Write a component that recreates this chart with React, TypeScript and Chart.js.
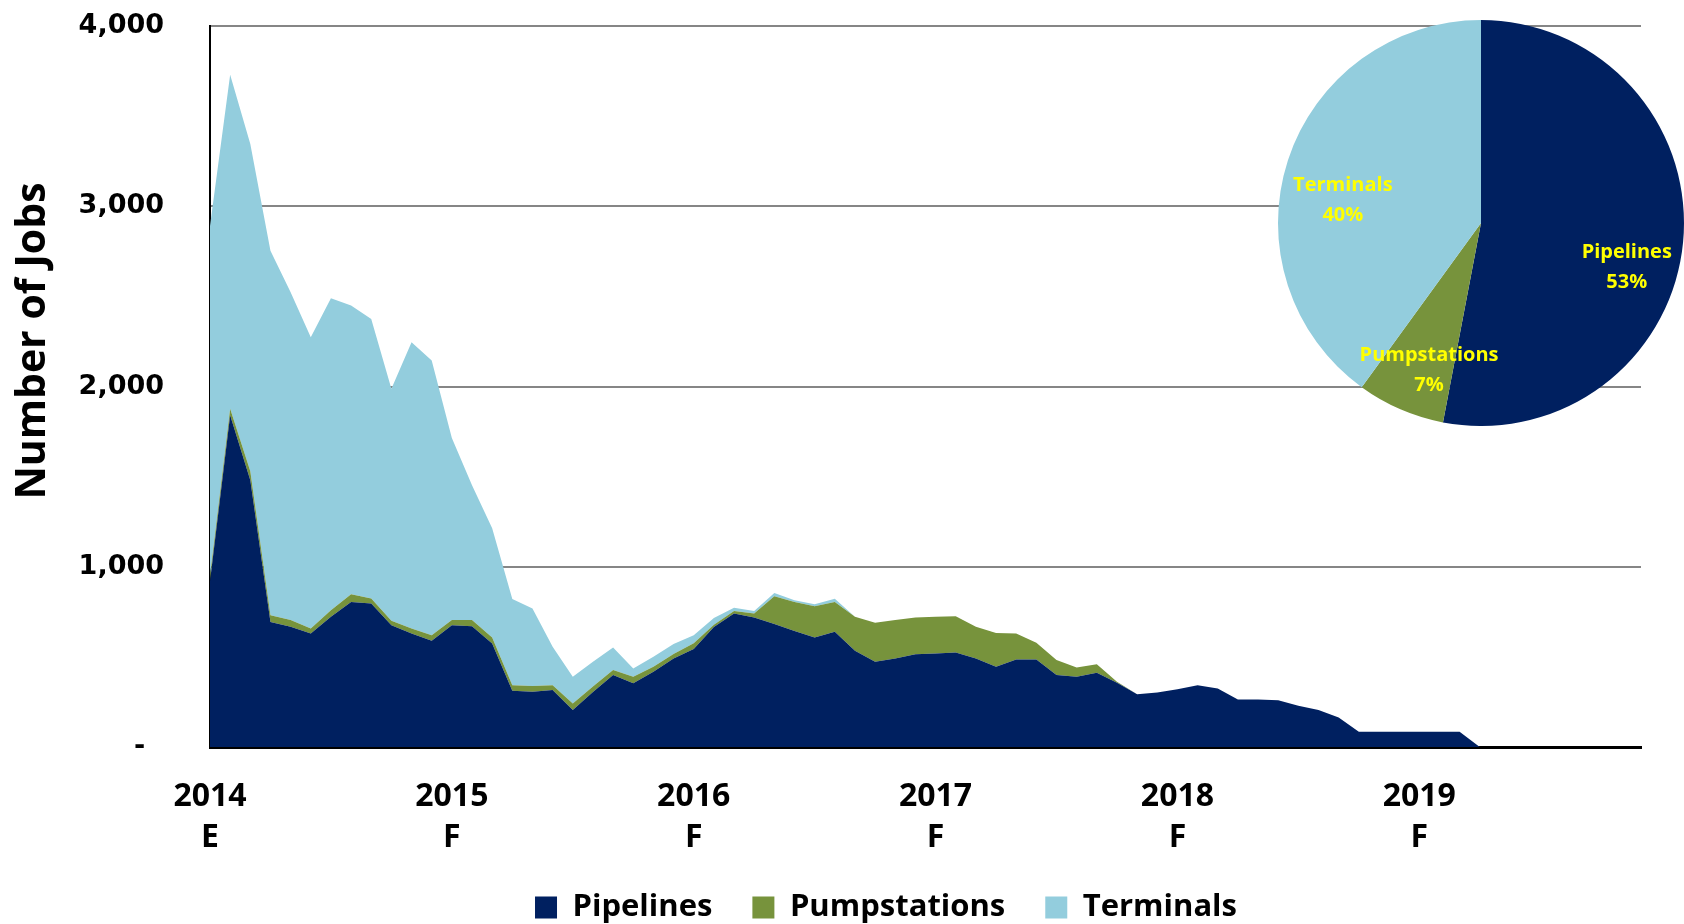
import React, { useEffect, useRef } from 'react';
import { Chart, registerables } from 'chart.js';

Chart.register(...registerables);

const years = ['2014', '2015', '2016', '2017', '2018', '2019'];
const yearTags = ['E', 'F', 'F', 'F', 'F', 'F'];
const monthNums = ['01', '02', '03', '04', '05', '06', '07', '08', '09', '10', '11', '12'];
const categories: string[] = years.flatMap((y) => monthNums.map((m) => `${y}-${m}`));

const pipelines = [
  920, 1840, 1480, 694, 667, 630, 722, 805, 796, 676,
  630, 589, 676, 670, 574, 312, 306, 316, 205, 305,
  399, 353, 417, 491, 543, 666, 741, 718, 682, 643,
  608, 639, 534, 473, 491, 515, 519, 524, 491, 445,
  486, 486, 399, 390, 412, 356, 292, 303, 320, 343,
  325, 264, 264, 260, 229, 205, 164, 85, 85, 85,
  85, 85, 85, 0, 0, 0, 0, 0, 0, 0,
  0, 0,
];

const pumpstations = [
  30, 36, 50, 37, 37, 27, 37, 42, 28, 24,
  27, 31, 28, 34, 34, 31, 32, 27, 37, 30,
  28, 37, 28, 25, 32, 12, 14, 23, 155, 162,
  173, 166, 188, 216, 213, 203, 203, 202, 176, 188,
  144, 93, 83, 51, 47, 6, 0, 0, 0, 0,
  0, 0, 0, 0, 0, 0, 0, 0, 0, 0,
  0, 0, 0, 0, 0, 0, 0, 0, 0, 0,
  0, 0,
];

const terminals = [
  1940, 1853, 1815, 2022, 1819, 1616, 1730, 1602, 1550, 1287,
  1588, 1524, 1010, 748, 605, 478, 430, 213, 148, 138,
  125, 46, 56, 55, 45, 37, 18, 14, 18, 9,
  11, 18, 0, 0, 0, 0, 0, 0, 0, 0,
  0, 0, 0, 0, 0, 0, 0, 0, 0, 0,
  0, 0, 0, 0, 0, 0, 0, 0, 0, 0,
  0, 0, 0, 0, 0, 0, 0, 0, 0, 0,
  0, 0,
];

const pieLabels = ['Pipelines', 'Pumpstations', 'Terminals'];
const pieShares = [53, 7, 40];

const NAVY = '#002060';
const GREEN = '#77933C';
const LIGHT = '#93CDDD';
const LABEL_YELLOW = '#FFFF00';

// label placement style (radial fraction, angular shift in degrees) for pie labels
const pieLabelRadius = [0.75, 0.77, 0.69];
const pieLabelShift = [11.4, -4, -8.5];

const yTitlePlugin = {
  id: 'yTitle',
  afterDraw(chart: any) {
    const { ctx, chartArea } = chart;
    ctx.save();
    ctx.translate(chartArea.left - 177, chartArea.top + 315);
    ctx.rotate(-Math.PI / 2);
    ctx.font = 'bold 41px "Open Sans"';
    ctx.fillStyle = '#000';
    ctx.textAlign = 'center';
    ctx.textBaseline = 'middle';
    ctx.fillText('Number of Jobs', 0, 0);
    ctx.restore();
  },
};

// nudges the legend row to sit where the reference places it
const legendNudgePlugin = {
  id: 'legendNudge',
  afterLayout(chart: any) {
    const lg = chart.legend;
    if (!lg) return;
    lg.left += 65.5;
    lg.right += 65.5;
    lg.top -= 7;
    lg.bottom -= 7;
  },
};

const pieLabelPlugin = {
  id: 'pieLabels',
  afterDatasetsDraw(chart: any) {
    const meta = chart.getDatasetMeta(0);
    const ctx = chart.ctx;
    ctx.save();
    ctx.font = 'bold 20px "Open Sans"';
    ctx.fillStyle = LABEL_YELLOW;
    ctx.textAlign = 'center';
    ctx.textBaseline = 'middle';
    meta.data.forEach((arc: any, i: number) => {
      const p = arc.getProps(['x', 'y', 'startAngle', 'endAngle', 'outerRadius'], true);
      const mid = (p.startAngle + p.endAngle) / 2 + (pieLabelShift[i] * Math.PI) / 180;
      const r = p.outerRadius * pieLabelRadius[i];
      const cx = p.x + Math.cos(mid) * r;
      const cy = p.y + Math.sin(mid) * r;
      ctx.fillText(pieLabels[i], cx, cy - 15);
      ctx.fillText(`${pieShares[i]}%`, cx, cy + 15);
    });
    ctx.restore();
  },
};

export default function App() {
  const mainRef = useRef<HTMLCanvasElement>(null);
  const pieRef = useRef<HTMLCanvasElement>(null);

  useEffect(() => {
    const main = new Chart(mainRef.current as HTMLCanvasElement, {
      type: 'line',
      data: {
        labels: categories,
        datasets: [
          { label: 'Pipelines', data: pipelines, backgroundColor: NAVY, borderColor: NAVY, fill: 'origin' },
          { label: 'Pumpstations', data: pumpstations, backgroundColor: GREEN, borderColor: GREEN, fill: '-1' },
          { label: 'Terminals', data: terminals, backgroundColor: LIGHT, borderColor: LIGHT, fill: '-1' },
        ],
      },
      options: {
        responsive: false,
        animation: false,
        layout: { padding: { left: 0, right: 43, top: 26, bottom: -16 } },
        elements: {
          point: { radius: 0, hoverRadius: 0 },
          line: { borderWidth: 0, tension: 0 },
        },
        plugins: {
          legend: {
            position: 'bottom',
            labels: {
              font: { family: '"Open Sans"', weight: 'bold', size: 31 },
              color: '#000',
              boxWidth: 22,
              boxHeight: 22,
              padding: 40,
            },
          },
          tooltip: { enabled: false },
        },
        scales: {
          x: {
            offset: false,
            grid: { display: false, drawTicks: false },
            border: { display: true, color: '#000', width: 3 },
            ticks: {
              autoSkip: false,
              maxRotation: 0,
              minRotation: 0,
              padding: 30,
              color: '#000',
              font: { family: '"Open Sans"', weight: 'bold', size: 32, lineHeight: 1.26 },
              callback: (_v: any, i: number) =>
                i % 12 === 0 ? [years[i / 12], yearTags[i / 12]] : null,
            },
            afterFit: (s: any) => {
              s.height = 112;
            },
          },
          y: {
            stacked: true,
            min: 0,
            max: 4000,
            ticks: {
              stepSize: 1000,
              padding: 46,
              color: '#000',
              font: { family: '"DejaVu Sans"', weight: 'bold', size: 27 },
              callback: (v: any) => (Number(v) === 0 ? '-  ' : Number(v).toLocaleString('en-US')),
            },
            grid: { color: '#868686', lineWidth: 2, drawTicks: false },
            border: { display: true, color: '#000', width: 2 },
            afterFit: (s: any) => {
              s.width = 210;
              s.paddingTop = 16;
              s.paddingBottom = 16;
            },
          },
        },
      },
      plugins: [yTitlePlugin, legendNudgePlugin],
    } as any);

    const pie = new Chart(pieRef.current as HTMLCanvasElement, {
      type: 'pie',
      data: {
        labels: pieLabels,
        datasets: [
          {
            data: pieShares,
            backgroundColor: [NAVY, GREEN, LIGHT],
            borderWidth: 0,
          },
        ],
      },
      options: {
        responsive: false,
        animation: false,
        layout: { padding: 0 },
        plugins: { legend: { display: false }, tooltip: { enabled: false } },
      },
      plugins: [pieLabelPlugin],
    } as any);

    return () => {
      main.destroy();
      pie.destroy();
    };
  }, []);

  return (
    <div style={{ position: 'fixed', left: 0, top: 0, width: 1684, height: 924, background: '#fff' }}>
      <canvas
        ref={mainRef}
        width={1684}
        height={924}
        style={{ position: 'absolute', left: 0, top: 0, width: 1684, height: 924 }}
      />
      <canvas
        ref={pieRef}
        width={406}
        height={406}
        style={{ position: 'absolute', left: 1278, top: 20, width: 406, height: 406 }}
      />
    </div>
  );
}
